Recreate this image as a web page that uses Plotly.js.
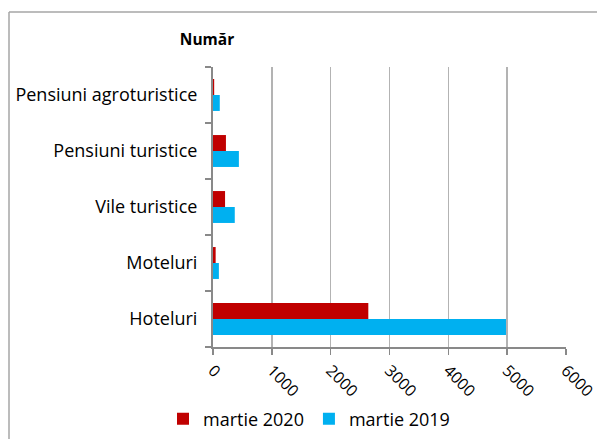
<!DOCTYPE html>
<html><head><meta charset="utf-8">
<script src="https://cdn.plot.ly/plotly-3.0.1.min.js"></script>
<style>html,body{margin:0;padding:0;background:#fff}#chart{width:597px;height:439px}</style>
</head><body><div id="chart"></div>
<script>
const categories = ["Hoteluri", "Moteluri", "Vile turistice", "Pensiuni turistice", "Pensiuni agroturistice"];
const martie2020 = [2640, 45, 205, 220, 20];
const martie2019 = [4980, 100, 370, 440, 115];
const seriesNames = ["martie 2020", "martie 2019"];
const xTicks = [0, 1000, 2000, 3000, 4000, 5000, 6000];

const L = 213, R = 31, T = 67, B = 92, W = 597, H = 439;
const pw = W - L - R, ph = H - T - B;
const px = x => (x - L) / pw;
const py = y => 1 - (y - T) / ph;
const font = "'Open Sans', sans-serif";

const data = [
  {type: "bar", orientation: "h", name: seriesNames[1], y: categories, x: martie2019,
   marker: {color: "#00B0F0"}, legendrank: 2, hoverinfo: "x"},
  {type: "bar", orientation: "h", name: seriesNames[0], y: categories, x: martie2020,
   marker: {color: "#C00000"}, legendrank: 1, hoverinfo: "x"}
];
const layout = {
  width: W, height: H,
  margin: {l: L, r: R, t: T, b: B, pad: 0, autoexpand: false},
  paper_bgcolor: "#fff", plot_bgcolor: "#fff",
  barmode: "group", bargap: 0.43, bargroupgap: 0,
  font: {family: font, size: 18, color: "#000"},
  title: {text: "<b>Număr</b>", font: {family: font, size: 15.5, color: "#000"},
          xref: "container", yref: "container",
          x: 207 / W, xanchor: "center", y: 1 - 40 / H, yanchor: "middle"},
  xaxis: {range: [0, 6000], tickvals: xTicks, ticktext: xTicks.map(String), tickangle: 45,
          showgrid: true, gridcolor: "#b3b3b3", gridwidth: 1.5,
          showline: true, linecolor: "#898989", linewidth: 2,
          ticks: "outside", ticklen: 6, tickcolor: "#898989", tickwidth: 1.5,
          ticklabeloverflow: "allow",
          zeroline: false, fixedrange: true, automargin: false, tickfont: {size: 16}},
  yaxis: {showgrid: false, showline: true, linecolor: "#898989", linewidth: 2,
          ticks: "outside", ticklen: 6, tickcolor: "#898989", tickwidth: 1.5,
          tickson: "boundaries", ticklabelstandoff: 10, fixedrange: true, automargin: false,
          tickfont: {size: 18}},
  legend: {orientation: "h", x: px(163), xanchor: "left", y: py(419), yanchor: "middle",
           font: {size: 18}, traceorder: "normal", itemwidth: 30},
  showlegend: true,
  shapes: [
    {type: "line", xref: "paper", yref: "paper", x0: px(9), x1: px(9), y0: py(12), y1: py(445),
     line: {color: "#a6a6a6", width: 1.5}},
    {type: "line", xref: "paper", yref: "paper", x0: px(9), x1: px(605), y0: py(12), y1: py(12),
     line: {color: "#a6a6a6", width: 1.5}}
  ]
};
Plotly.newPlot("chart", data, layout, {displayModeBar: false, staticPlot: true});
</script></body></html>
